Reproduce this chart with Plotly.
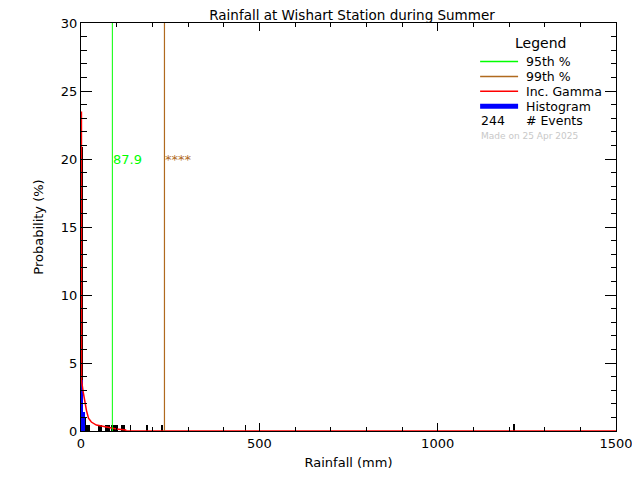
import plotly.graph_objects as go

# ---- data ----
title_text = "Rainfall at Wishart Station during Summer"
x_label = "Rainfall (mm)"
y_label = "Probability (%)"

# black histogram (bin centre mm, bin width mm, probability %)
black_x = [2.4, 3.5, 10.5, 18.5, 53.0, 73.5, 93.0, 117.5, 139.0, 185.5, 227.5, 461.0, 1214.0]
black_w = [2.0, 3.0, 7.0, 11.0, 9.0, 15.0, 20.0, 9.0, 2.0, 5.0, 5.0, 2.0, 5.0]
black_y = [20.9, 7.8, 1.0, 0.44, 0.44, 0.44, 0.44, 0.44, 0.44, 0.44, 0.44, 0.44, 0.5]

# blue histogram
blue_x = [2.5, 7.5]
blue_w = [5.0, 5.0]
blue_y = [3.75, 1.4]

# incomplete gamma fit
gamma_x = [1.2, 1.6, 6, 9.8, 15.4, 21, 29, 43, 71, 100, 125, 125.5, 1500]
gamma_y = [23.5, 3.7, 2.9, 2.2, 1.5, 0.95, 0.66, 0.44, 0.27, 0.15, 0.08, 0, 0]

p95 = 87.9
p95_label = "87.9"
p99 = 234.0
p99_label = "****"
n_events = 244
made_on = "Made on 25 Apr 2025"

x_range = [0, 1500]
y_range = [0, 30]

# ---- layout geometry (screen pixels; page body adds an 8px offset) ----
OFF = 8
W, H = 640 - OFF, 480 - OFF
L, R, T, B = 80.5, 616, 23.3, 431   # plot edges in screen pixels


def px(xp):
    return (xp - L) / (R - L)


def py(yp):
    return (B - yp) / (B - T)


FONT = "DejaVu Sans"
GREEN = "#00ff00"
BROWN = "#b06a1e"

fig = go.Figure()
fig.add_trace(go.Bar(x=black_x, y=black_y, width=black_w,
                     marker=dict(color="black", line=dict(width=0))))
fig.add_trace(go.Bar(x=blue_x, y=blue_y, width=blue_w,
                     marker=dict(color="#0000ff", line=dict(width=0))))
fig.add_trace(go.Scatter(x=gamma_x, y=gamma_y, mode="lines",
                         line=dict(color="#ff0000", width=1.5)))
fig.add_trace(go.Scatter(x=[p95, p95], y=y_range, mode="lines",
                         line=dict(color=GREEN, width=1)))
fig.add_trace(go.Scatter(x=[p99, p99], y=y_range, mode="lines",
                         line=dict(color=BROWN, width=1.2)))

fig.add_annotation(x=p95, y=20, xref="x", yref="y", text=p95_label, showarrow=False,
                   xanchor="left", xshift=-1, font=dict(family=FONT, size=13, color=GREEN))
fig.add_annotation(x=p99, y=20, xref="x", yref="y", text=p99_label, showarrow=False,
                   xanchor="left", xshift=-1, font=dict(family=FONT, size=13, color=BROWN))

# legend block drawn manually
legend_items = [("95th %", GREEN, 1.5, 61.7),
                ("99th %", BROWN, 1.5, 76.7),
                ("Inc. Gamma", "#ff0000", 1.5, 91.5),
                ("Histogram", "#0000ff", 5, 106.5)]
fig.add_annotation(x=px(540), y=py(43), xref="paper", yref="paper", text="Legend",
                   showarrow=False, xanchor="center", yanchor="middle",
                   font=dict(family=FONT, size=14, color="black"))
for label, col, lw, yy in legend_items:
    fig.add_shape(type="line", xref="paper", yref="paper",
                  x0=px(480), x1=px(518), y0=py(yy), y1=py(yy),
                  line=dict(color=col, width=lw))
    fig.add_annotation(x=px(524), y=py(yy), xref="paper", yref="paper", text=label,
                       showarrow=False, xanchor="left", yanchor="middle",
                       font=dict(family=FONT, size=12.5, color="black"))
fig.add_annotation(x=px(479), y=py(121), xref="paper", yref="paper", text=str(n_events),
                   showarrow=False, xanchor="left", yanchor="middle",
                   font=dict(family=FONT, size=12.5, color="black"))
fig.add_annotation(x=px(524), y=py(121), xref="paper", yref="paper", text="# Events",
                   showarrow=False, xanchor="left", yanchor="middle",
                   font=dict(family=FONT, size=12.5, color="black"))
fig.add_annotation(x=px(479), y=py(136), xref="paper", yref="paper", text=made_on,
                   showarrow=False, xanchor="left", yanchor="middle",
                   font=dict(family=FONT, size=9, color="#c8c8c8"))

fig.update_layout(
    width=W, height=H,
    margin=dict(l=L - OFF, r=(W + OFF) - R, t=T - OFF, b=(H + OFF) - B, pad=0, autoexpand=False),
    paper_bgcolor="white", plot_bgcolor="white",
    showlegend=False, barmode="overlay", bargap=0,
    title=dict(text=title_text, x=(352 - OFF) / W, xanchor="center", y=1 - (15 - OFF) / H,
               yanchor="middle", font=dict(family=FONT, size=13.5, color="black")),
    font=dict(family=FONT, size=13, color="black"),
)
fig.update_xaxes(range=x_range, dtick=500, tick0=0, showgrid=False, zeroline=False,
                 showline=True, linecolor="black", linewidth=1, mirror="ticks",
                 ticks="inside", ticklen=8, tickcolor="black", automargin=False,
                 minor=dict(ticks="inside", ticklen=4, dtick=100, tickcolor="black", showgrid=False),
                 title=dict(text=x_label, font=dict(family=FONT, size=13), standoff=8),
                 tickfont=dict(family=FONT, size=13))
fig.update_yaxes(range=y_range, dtick=5, tick0=0, showgrid=False, zeroline=False,
                 showline=True, linecolor="black", linewidth=1, mirror="ticks",
                 ticks="inside", ticklen=11, tickcolor="black", automargin=False,
                 minor=dict(ticks="inside", ticklen=5.5, dtick=1, tickcolor="black", showgrid=False),
                 title=dict(text=y_label, font=dict(family=FONT, size=13), standoff=14),
                 tickfont=dict(family=FONT, size=13))

fig.write_html("out.html")
